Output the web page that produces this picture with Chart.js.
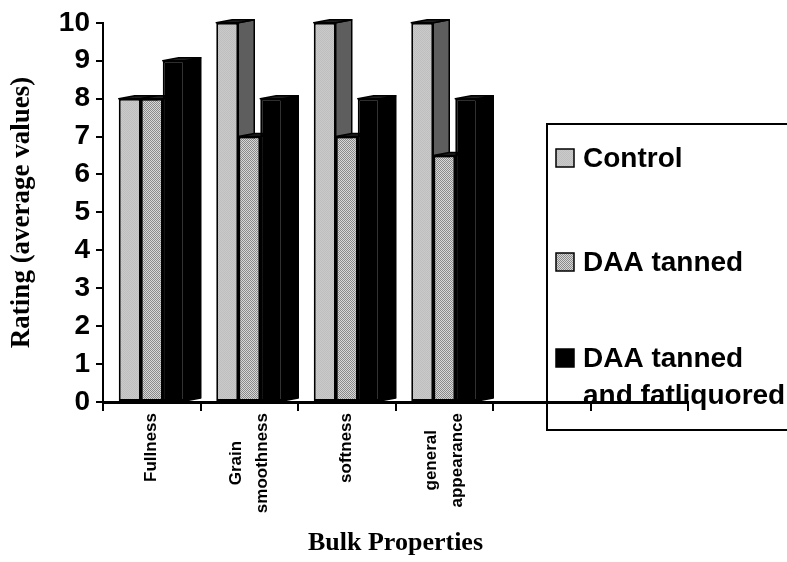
<!DOCTYPE html>
<html>
<head>
<meta charset="utf-8">
<script src="https://cdn.jsdelivr.net/npm/chart.js@4.4.1/dist/chart.umd.min.js"></script>
<style>
  html, body { margin: 0; padding: 0; background: #fff; }
  #wrap { width: 787px; height: 562px; }
</style>
</head>
<body>
<div id="wrap"><canvas id="c" width="787" height="562"></canvas></div>
<script>
// Bulk properties of leather, average ratings per treatment
const categories = ['Fullness', ['Grain', 'smoothness'], 'softness', ['general', 'appearance'], '', ''];
const seriesNames = ['Control', 'DAA tanned', 'DAA tanned and fatliquored'];
const controlValues = [8, 10, 10, 10, null, null];
const daaTannedValues = [8, 7, 7, 6.5, null, null];
const daaFatliquoredValues = [9, 8, 8, 8, null, null];
const yMin = 0, yMax = 10, yStep = 1;

const SANS = "Arial, 'Liberation Sans', sans-serif";
const SERIF = "'Times New Roman', 'Liberation Serif', serif";

const canvas = document.getElementById('c');
const ctx = canvas.getContext('2d');

// small dithered fills imitating the print-style shading
function dither(c1, c2) {
  const p = document.createElement('canvas');
  p.width = 2; p.height = 2;
  const g = p.getContext('2d');
  g.fillStyle = c1; g.fillRect(0, 0, 2, 2);
  g.fillStyle = c2; g.fillRect(0, 0, 1, 1); g.fillRect(1, 1, 1, 1);
  return ctx.createPattern(p, 'repeat');
}
const controlFill = dither('#cacaca', '#bebebe');
const daaFill = dither('#d8d8d8', '#8a8a8a');

// side and top faces give the columns their depth
const DEPTH_X = 16, DEPTH_Y = 3;
const depthFaces = {
  id: 'depthFaces',
  beforeDatasetsDraw(chart) {
    const c = chart.ctx;
    chart.data.datasets.forEach((ds, i) => {
      const meta = chart.getDatasetMeta(i);
      meta.data.forEach((bar, j) => {
        if (ds.data[j] == null) return;
        const { x, y, base, width } = bar.getProps(['x', 'y', 'base', 'width'], true);
        const l = x - width / 2, r = x + width / 2;
        c.save();
        c.lineWidth = 1.5;
        c.strokeStyle = '#000';
        c.lineJoin = 'round';
        c.beginPath();
        c.moveTo(r, y); c.lineTo(r + DEPTH_X, y - DEPTH_Y);
        c.lineTo(r + DEPTH_X, base - DEPTH_Y); c.lineTo(r, base);
        c.closePath();
        c.fillStyle = ds.sideColor; c.fill(); c.stroke();
        c.beginPath();
        c.moveTo(l, y); c.lineTo(l + DEPTH_X, y - DEPTH_Y);
        c.lineTo(r + DEPTH_X, y - DEPTH_Y); c.lineTo(r, y);
        c.closePath();
        c.fillStyle = '#202020'; c.fill(); c.stroke();
        c.restore();
      });
    });
  }
};

// rotated category names, lines centred on one another
const categoryLabels = {
  id: 'categoryLabels',
  afterDraw(chart) {
    const c = chart.ctx;
    const xs = chart.scales.x;
    c.save();
    c.font = 'bold 17px ' + SANS;
    c.fillStyle = '#000';
    c.textAlign = 'center';
    c.textBaseline = 'middle';
    const lineGap = 26;
    const top = xs.top + 11;
    chart.data.labels.forEach((lab, i) => {
      const lines = Array.isArray(lab) ? lab : [lab];
      if (!lines.join('')) return;
      const cx = xs.getPixelForValue(i);
      const w = Math.max(...lines.map(t => c.measureText(t).width));
      lines.forEach((t, k) => {
        const lx = cx + (k - (lines.length - 1) / 2) * lineGap;
        c.save();
        c.translate(lx, top + w / 2);
        c.rotate(-Math.PI / 2);
        c.fillText(t, 0, 0);
        c.restore();
      });
    });
    c.restore();
  }
};

// boxed legend at the right
function wrapWords(c, text, maxW) {
  const words = text.split(' ');
  const out = [];
  let cur = '';
  words.forEach(wd => {
    const t = cur ? cur + ' ' + wd : wd;
    if (cur && c.measureText(t).width > maxW) { out.push(cur); cur = wd; }
    else cur = t;
  });
  if (cur) out.push(cur);
  return out;
}
const boxLegend = {
  id: 'boxLegend',
  afterDraw(chart) {
    const c = chart.ctx;
    c.save();
    c.lineWidth = 2;
    c.strokeStyle = '#000';
    c.strokeRect(547, 124, 260, 306);
    c.font = 'bold 28px ' + SANS;
    c.textBaseline = 'middle';
    c.textAlign = 'left';
    const rows = [158, 262, 358];
    chart.data.datasets.forEach((ds, i) => {
      const y = rows[i];
      c.fillStyle = ds.backgroundColor;
      c.fillRect(556, y - 9, 18, 18);
      c.lineWidth = 1.5;
      c.strokeRect(556, y - 9, 18, 18);
      c.fillStyle = '#000';
      wrapWords(c, ds.label, 206).forEach((ln, k) => c.fillText(ln, 583, y + 1 + k * 37));
    });
    c.restore();
  }
};

new Chart(canvas, {
  type: 'bar',
  data: {
    labels: categories,
    datasets: [
      { label: seriesNames[0], data: controlValues, backgroundColor: controlFill, sideColor: '#5e5e5e' },
      { label: seriesNames[1], data: daaTannedValues, backgroundColor: daaFill, sideColor: '#6a6a6a' },
      { label: seriesNames[2], data: daaFatliquoredValues, backgroundColor: '#000', sideColor: '#000' }
    ].map(d => Object.assign(d, {
      borderColor: '#000', borderWidth: 2, borderSkipped: false,
      categoryPercentage: 0.677, barPercentage: 1
    }))
  },
  options: {
    responsive: false,
    animation: false,
    devicePixelRatio: 1,
    layout: { padding: { top: 22, right: 99, bottom: 0, left: 0 } },
    plugins: { legend: { display: false }, tooltip: { enabled: false } },
    scales: {
      x: {
        offset: true,
        grid: { offset: true, drawOnChartArea: false, drawTicks: true, tickLength: 9, color: '#000', lineWidth: 2 },
        border: { display: true, color: '#000', width: 3 },
        ticks: { display: false },
        title: { display: true, text: 'Bulk Properties', color: '#000',
                 font: { family: SERIF, size: 26, weight: 'bold' }, padding: { top: 0, bottom: 3 } },
        afterFit(s) { s.height = 160; }
      },
      y: {
        min: yMin, max: yMax,
        ticks: { stepSize: yStep, color: '#000', padding: 6, font: { family: SANS, size: 28, weight: 'bold' } },
        grid: { drawOnChartArea: false, drawTicks: true, tickLength: 7, color: '#000', lineWidth: 2 },
        border: { display: true, color: '#000', width: 2 },
        title: { display: true, text: 'Rating (average values)', color: '#000',
                 font: { family: SERIF, size: 27, weight: 'bold' }, padding: { top: 6, bottom: 0 } },
        afterFit(s) { s.width = 103; }
      }
    }
  },
  plugins: [depthFaces, categoryLabels, boxLegend]
});
</script>
</body>
</html>
